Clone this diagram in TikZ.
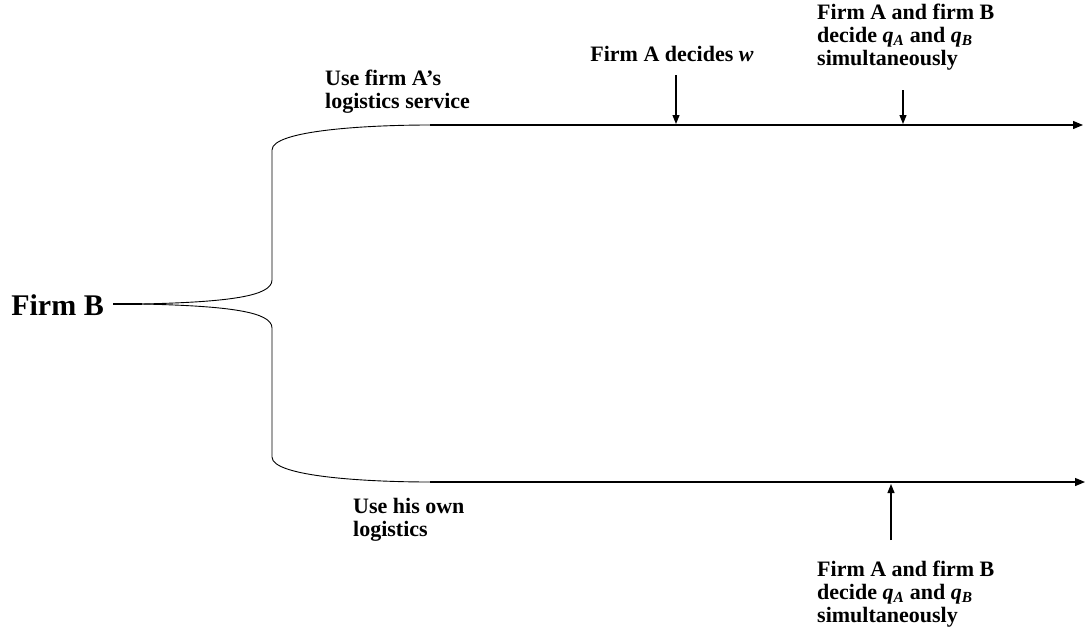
\documentclass[tikz,border=0pt]{standalone}
\usepackage{fontspec}
\setmainfont{Liberation Serif}
\usetikzlibrary{arrows.meta}
\tikzset{
  lbl/.style={font=\bfseries\fontsize{22}{23}\selectfont, align=left, inner sep=0pt},
  timeline/.style={-{Triangle[length=10pt,width=8pt]}, line width=1.2pt},
  tick/.style={-{Triangle[length=9pt,width=7pt]}, line width=1.1pt},
  brace/.style={line width=0.9pt},
}
\newcommand{\qvar}[1]{\textit{q}\textsubscript{\textit{#1}}}

\begin{document}
\begin{tikzpicture}[x=1pt,y=-1pt]
		\useasboundingbox (0,0) rectangle (1087,637);

		\node[font=\bfseries\fontsize{30}{30}\selectfont, inner sep=0pt, anchor=base east] (firmB) at (104,315) {Firm B};
		\coordinate (stem) at (142,304);

		% brace
		\coordinate (upbend) at (272,280);
		\coordinate (uptop) at (272,150);
		\coordinate (upstart) at (430,125);
		\coordinate (upend) at (1083,125);
		\coordinate (lowbend) at (272,328);
		\coordinate (lowbot) at (272,457);
		\coordinate (lowstart) at (430,482);
		\coordinate (lowend) at (1085,482);

		\draw[line width=1.2pt] (113,304) -- (stem);
		\draw[brace] (stem) .. controls (230,302) and (272,296) .. (upbend) -- (uptop)
			.. controls (272,130) and (370,125) .. (upstart);
		\draw[brace] (stem) .. controls (230,306) and (272,312) .. (lowbend) -- (lowbot)
			.. controls (272,477) and (370,482) .. (lowstart);

		\draw[timeline] (upstart) -- (upend);
		\draw[timeline] (lowstart) -- (lowend);

		% labels
		\node[lbl, anchor=north west] (useA) at (325,70) {Use firm A’s\\logistics service};
		\node[lbl, anchor=north west] (useOwn) at (353,498) {Use his own\\logistics};

		\node[lbl, anchor=north] (decW) at (672,46) {Firm A decides \textit{w}};
		\node[lbl, anchor=north west] (decQup) at (817,4) {Firm A and firm B\\decide \qvar{A} and \qvar{B}\\simultaneously};
		\node[lbl, anchor=north west] (decQlow) at (817,561) {Firm A and firm B\\decide \qvar{A} and \qvar{B}\\simultaneously};

		\coordinate (wtip) at (676,124);
		\coordinate (qtip) at (903,124);
		\coordinate (qlowtip) at (891,484);

		\draw[tick] (676,75) -- (wtip);
		\draw[tick] (903,90) -- (qtip);
		\draw[tick] (891,540) -- (qlowtip);
	\end{tikzpicture}
\end{document}
